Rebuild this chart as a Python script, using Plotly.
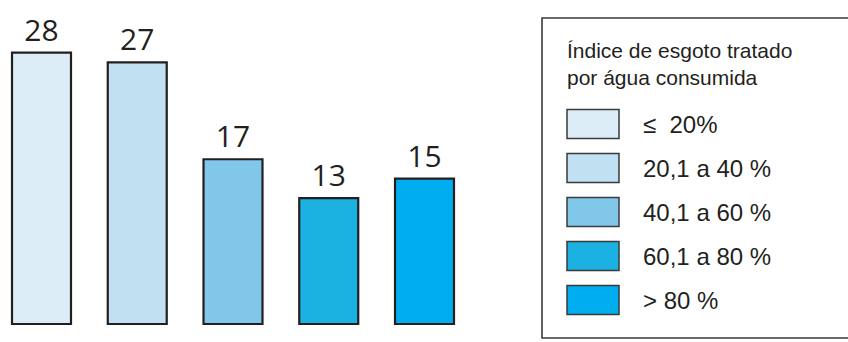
import plotly.graph_objects as go

categories = ["≤ 20%", "20,1 a 40 %", "40,1 a 60 %", "60,1 a 80 %", "> 80 %"]
values = [28, 27, 17, 13, 15]
colors = ["#DDEDF8", "#C1E0F2", "#80C7EA", "#1BB1E1", "#00AEEF"]
legend_title = "Índice de esgoto tratado<br>por água consumida"

W, H = 848, 342
def px(x):
    return x / W
def py(y):
    return 1 - y / H

fig = go.Figure()
fig.add_trace(go.Bar(
    x=categories,
    y=values,
    marker=dict(color=colors, line=dict(color="#231F20", width=2.2)),
    width=0.616,
    text=[str(v) for v in values],
    textposition="outside",
    textfont=dict(family="Open Sans", size=30, color="#231F20"),
    cliponaxis=False,
    showlegend=False,
    hoverinfo="skip",
))

shapes = [dict(type="rect", xref="paper", yref="paper",
               x0=px(542), x1=px(852), y0=py(338), y1=py(18),
               line=dict(color="#3a3a3a", width=1.6), fillcolor="rgba(0,0,0,0)")]
annotations = [dict(xref="paper", yref="paper", x=px(565), y=py(64),
                    xanchor="left", yanchor="middle", align="left",
                    text=legend_title, showarrow=False,
                    font=dict(family="Liberation Sans, Arial", size=21, color="#231F20"))]
for i, (lab, col) in enumerate(zip(categories, colors)):
    cy = 124 + 44 * i
    shapes.append(dict(type="rect", xref="paper", yref="paper",
                       x0=px(567), x1=px(619), y0=py(cy + 14.5), y1=py(cy - 14.5),
                       line=dict(color="#3a3a3a", width=1.5), fillcolor=col))
    annotations.append(dict(xref="paper", yref="paper", x=px(641), y=py(cy),
                            xanchor="left", yanchor="middle",
                            text=lab.replace("≤ ", "≤  "), showarrow=False,
                            font=dict(family="Liberation Sans, Arial", size=24, color="#231F20")))

fig.update_layout(
    width=W, height=H,
    margin=dict(l=0, r=0, t=0, b=0),
    paper_bgcolor="white", plot_bgcolor="white",
    xaxis=dict(range=[-0.4334, 8.423], visible=False, fixedrange=True),
    yaxis=dict(range=[-1.858, 33.436], visible=False, fixedrange=True),
    shapes=shapes, annotations=annotations,
)
fig.write_html("out.html", config={"displayModeBar": False})
